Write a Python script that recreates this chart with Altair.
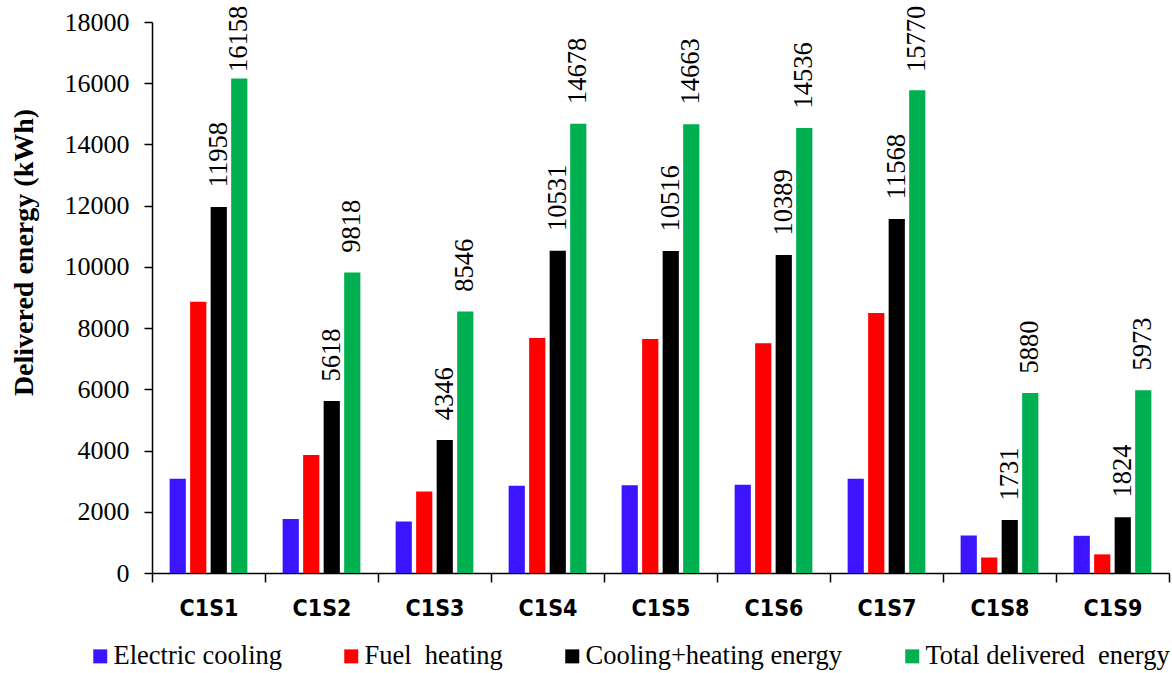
import altair as alt
import pandas as pd

# Delivered energy per case (kWh)
cases = ["C1S1", "C1S2", "C1S3", "C1S4", "C1S5", "C1S6", "C1S7", "C1S8", "C1S9"]
electric_cooling = [3080, 1760, 1680, 2850, 2870, 2880, 3075, 1225, 1215]
fuel_heating = [8860, 3858, 2666, 7681, 7646, 7509, 8493, 506, 609]
cooling_heating = [11958, 5618, 4346, 10531, 10516, 10389, 11568, 1731, 1824]
total_delivered = [16158, 9818, 8546, 14678, 14663, 14536, 15770, 5880, 5973]

series_names = [
    "Electric cooling",
    "Fuel\u00a0 heating",
    "Cooling+heating energy",
    "Total delivered\u00a0 energy",
]
series_colors = ["#3C14FF", "#FF0000", "#000000", "#00B050"]
labeled_series = [series_names[2], series_names[3]]
y_ticks = [0, 2000, 4000, 6000, 8000, 10000, 12000, 14000, 16000, 18000]

rows = []
for name, values in zip(series_names, [electric_cooling, fuel_heating, cooling_heating, total_delivered]):
    for case, v in zip(cases, values):
        rows.append({"case": case, "series": name, "value": v})
df = pd.DataFrame(rows)

SERIF = "Liberation Serif"
NARROW = "Liberation Sans Narrow, DejaVu Sans Condensed, Liberation Sans, sans-serif"

x_enc = alt.X(
    "case:N",
    sort=cases,
    title=None,
    scale=alt.Scale(paddingInner=0, paddingOuter=0),
    axis=alt.Axis(
        labelAngle=0,
        labelFont=NARROW,
        labelFontSize=23,
        labelFontWeight="bold",
        labelColor="black",
        labelPadding=15,
        tickBand="extent",
        tickSize=9,
        tickColor="black",
        tickWidth=1.5,
        domainColor="black",
        domainWidth=1.5,
        grid=False,
    ),
)
offset_enc = alt.XOffset(
    "series:N",
    sort=series_names,
    scale=alt.Scale(domain=series_names, paddingInner=0.21, paddingOuter=0.86),
)
y_scale = alt.Scale(domain=[0, 18000], nice=False)
y_axis = alt.Axis(
    values=y_ticks,
    format="d",
    title="Delivered energy (kWh)",
    titleFont=SERIF,
    titleFontSize=28,
    titleFontWeight="bold",
    titleColor="black",
    titleAngle=270,
    titleAlign="center",
    titleBaseline="middle",
    titleX=-128,
    titleY=230,
    labelFont=SERIF,
    labelFontSize=26,
    labelColor="black",
    labelPadding=15,
    tickSize=8,
    tickColor="black",
    tickWidth=1.5,
    domainColor="black",
    domainWidth=1.5,
    grid=False,
)

bars = (
    alt.Chart(df)
    .mark_bar()
    .encode(
        x=x_enc,
        xOffset=offset_enc,
        y=alt.Y("value:Q", scale=y_scale, axis=y_axis),
        color=alt.Color(
            "series:N",
            sort=series_names,
            scale=alt.Scale(domain=series_names, range=series_colors),
            legend=alt.Legend(
                title=None,
                orient="none",
                legendX=-65,
                legendY=621,
                direction="horizontal",
                columns=4,
                symbolType="square",
                symbolSize=196,
                symbolStrokeWidth=0,
                labelFont=SERIF,
                labelFontSize=26.5,
                labelColor="black",
                labelLimit=500,
                labelOffset=0,
                columnPadding=56,
            ),
        ),
    )
)

# Value labels sit a fixed gap above the bar, but are held below the top edge
labels = (
    alt.Chart(df)
    .transform_filter(alt.FieldOneOfPredicate(field="series", oneOf=labeled_series))
    .transform_calculate(label_pos="min(datum.value + 640, 16370)")
    .mark_text(
        angle=270,
        align="left",
        baseline="middle",
        font=SERIF,
        fontSize=26.5,
        color="black",
    )
    .encode(
        x=x_enc,
        xOffset=offset_enc,
        y=alt.Y("label_pos:Q", scale=y_scale, axis=y_axis),
        text=alt.Text("value:Q", format="d"),
    )
)

chart = (
    alt.layer(bars, labels)
    .properties(
        width=1017,
        height=551,
        autosize=alt.AutoSizeParams(type="none"),
        padding={"left": 152, "top": 22, "right": 3, "bottom": 100},
        background="white",
    )
    .configure_view(stroke=None)
)

chart.save("out.html", embed_options={"renderer": "svg", "actions": False})
